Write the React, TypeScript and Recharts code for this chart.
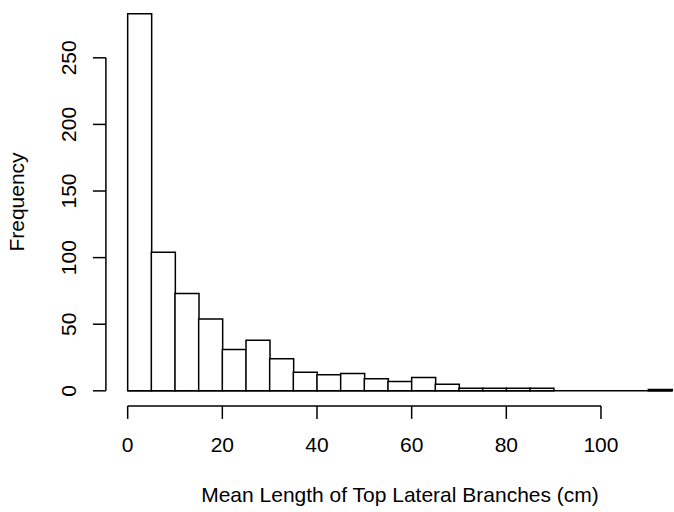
import { Bar, ComposedChart, ReferenceLine, XAxis, YAxis } from 'recharts';

// histogram of mean length of top lateral branches, 5 cm bins
const binStarts = [0, 5, 10, 15, 20, 25, 30, 35, 40, 45, 50, 55, 60, 65, 70, 75, 80, 85, 90, 95, 100, 105, 110];
const counts = [283, 104, 73, 54, 31, 38, 24, 14, 12, 13, 9, 7, 10, 5, 2, 2, 2, 2, 0, 0, 0, 0, 1];
const binWidth = 5;
const xTicks = [0, 20, 40, 60, 80, 100];
const yTicks = [0, 50, 100, 150, 200, 250];

const FONT = '"Liberation Sans", Arial, Helvetica, sans-serif';
const FS = 21;
const W = 674;
const H = 512;

const data = binStarts.map((s, i) => ({ mid: s + binWidth / 2, count: counts[i] }));
const xEnd = binStarts[binStarts.length - 1] + binWidth;

function XTick({ x, y, payload }: any) {
  return (
    <text x={x} y={y} textAnchor="middle" fontFamily={FONT} fontSize={FS} fill="#000">
      {payload.value}
    </text>
  );
}

function YTick({ x, y, payload }: any) {
  return (
    <text
      x={x}
      y={y}
      transform={`rotate(-90, ${x}, ${y})`}
      textAnchor="middle"
      fontFamily={FONT}
      fontSize={FS}
      fill="#000"
    >
      {payload.value}
    </text>
  );
}

export default function App() {
  return (
    <div style={{ position: 'absolute', left: 0, top: 0, background: '#fff' }}>
      <ComposedChart
        width={W}
        height={H}
        data={data}
        margin={{ top: 0, right: 0, left: 65.9, bottom: 46.1 }}
        barCategoryGap={0}
        barGap={0}
      >
        <XAxis
          dataKey="mid"
          type="number"
          domain={[-4.6, 115.43]}
          allowDataOverflow
          ticks={xTicks}
          interval={0}
          height={60}
          axisLine={false}
          tickSize={13}
          tickMargin={33}
          tickLine={{ stroke: '#000', strokeWidth: 1.5 }}
          tick={<XTick />}
        />
        <YAxis
          type="number"
          domain={[-11.32, 293.4]}
          allowDataOverflow
          ticks={yTicks}
          interval={0}
          width={40}
          axisLine={false}
          tickSize={13}
          tickMargin={17}
          tickLine={{ stroke: '#000', strokeWidth: 1.5 }}
          tick={<YTick />}
        />
        <ReferenceLine
          segment={[{ x: 0, y: 0 }, { x: xEnd, y: 0 }]}
          stroke="#000"
          strokeWidth={1.5}
          ifOverflow="visible"
        />
        <Bar dataKey="count" fill="#fff" stroke="#000" strokeWidth={1.5} isAnimationActive={false} />
        <ReferenceLine
          segment={[{ x: xTicks[0], y: -11.32 }, { x: xTicks[xTicks.length - 1], y: -11.32 }]}
          stroke="#000"
          strokeWidth={1.5}
          ifOverflow="visible"
        />
        <ReferenceLine
          segment={[{ x: -4.6, y: yTicks[0] }, { x: -4.6, y: yTicks[yTicks.length - 1] }]}
          stroke="#000"
          strokeWidth={1.5}
          ifOverflow="visible"
        />
        <text x={400} y={501.7} textAnchor="middle" fontFamily={FONT} fontSize={FS} fill="#000">
          Mean Length of Top Lateral Branches (cm)
        </text>
        <text
          x={24}
          y={202}
          transform="rotate(-90, 24, 202)"
          textAnchor="middle"
          fontFamily={FONT}
          fontSize={FS}
          fill="#000"
        >
          Frequency
        </text>
      </ComposedChart>
    </div>
  );
}
